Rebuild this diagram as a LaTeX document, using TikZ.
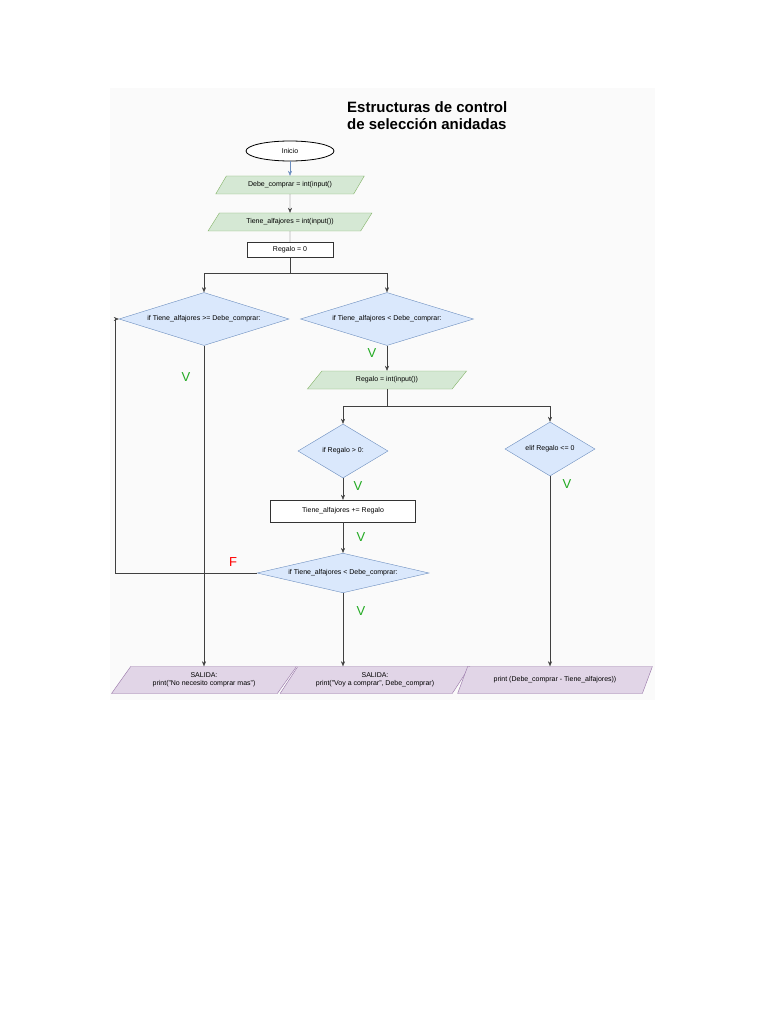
\documentclass[tikz,border=0pt]{standalone}
\usepackage{fontspec}
\setmainfont{Liberation Sans}
\usetikzlibrary{shapes.geometric,arrows.meta}
\definecolor{gf}{HTML}{D5E8D4}\definecolor{gd}{HTML}{82B366}
\definecolor{bf}{HTML}{DAE8FC}\definecolor{bd}{HTML}{6C8EBF}
\definecolor{pf}{HTML}{E1D5E7}\definecolor{pd}{HTML}{9673A6}
\definecolor{vg}{HTML}{22AA22}
\begin{document}
\begin{tikzpicture}[x=1pt,y=-1pt,
  every node/.style={font=\fontsize{7}{8}\selectfont,inner sep=1pt,align=center},
  para/.style={trapezium,trapezium left angle=50,trapezium right angle=130,trapezium stretches=true,draw},
  inp/.style={para,fill=gf,draw=gd},
  outp/.style={para,fill=pf,draw=pd},
  dec/.style={diamond,aspect=3.3,fill=bf,draw=bd,inner sep=0pt},
  proc/.style={draw=black!80,fill=white,rectangle},
  ar/.style={draw=black!75,-{Stealth[length=5pt,width=4pt]}},
  ln/.style={draw=black!75},
  vlab/.style={text=vg,font=\fontsize{13}{13}\selectfont},
]
\useasboundingbox (0,0) rectangle (768,1024);
\fill[black!2] (110,88) rectangle (655,700);
\node[anchor=west,font=\bfseries\fontsize{15}{17}\selectfont,align=left] (title) at (346,116) {Estructuras de control\\de selección anidadas};
\node[ellipse,draw,thick,fill=white,minimum width=88,minimum height=20] (ini) at (290,151) {Inicio};
\node[inp,minimum width=150,minimum height=18] (debe) at (290,185) {Debe\_comprar = int(input()};
\node[inp,minimum width=164,minimum height=18] (tiene) at (290,222) {Tiene\_alfajores = int(input())};
\node[proc,minimum width=86,minimum height=15] (reg0) at (290,250) {Regalo = 0};
\node[dec,minimum width=170,minimum height=53] (d1) at (204,319) {if Tiene\_alfajores >= Debe\_comprar:};
\node[dec,minimum width=173,minimum height=53] (d2) at (387,319) {if Tiene\_alfajores < Debe\_comprar:};
\node[inp,minimum width=160,minimum height=18] (regin) at (387,380) {Regalo = int(input())};
\node[dec,minimum width=90,minimum height=54] (d3) at (343,451) {if Regalo > 0:};
\node[dec,minimum width=90,minimum height=54] (d4) at (550,449) {elif Regalo <= 0};
\node[proc,minimum width=145,minimum height=22] (sum) at (343,511) {Tiene\_alfajores += Regalo};
\node[dec,minimum width=172,minimum height=38] (d5) at (343,573) {if Tiene\_alfajores < Debe\_comprar:};
\node[outp,minimum width=185,minimum height=27] (o1) at (204,680) {SALIDA:\\print("No necesito comprar mas")};
\node[outp,minimum width=190,minimum height=27] (o2) at (375,680) {SALIDA:\\print("Voy a comprar", Debe\_comprar)};
\node[outp,minimum width=195,minimum height=27] (o3) at (555,680) {print (Debe\_comprar - Tiene\_alfajores))};
\coordinate (s1) at (290,273);
\coordinate (s2) at (387,406);
\coordinate (lp) at (115,573);
\draw[ar,draw=bd] (ini) -- (debe);
\draw[ar] (debe) -- (tiene);
\draw[ln] (tiene) -- (reg0);
\draw[ln] (reg0) -- (s1);
\draw[ar] (s1) -| (d1.north);
\draw[ar] (s1) -| (d2.north);
\draw[ar] (d2) -- (regin);
\draw[ln] (regin) -- (s2);
\draw[ar] (s2) -| (d3.north);
\draw[ar] (s2) -| (d4.north);
\draw[ar] (d3) -- (sum);
\draw[ar] (sum) -- (d5);
\draw[ln] (d5.west) -- (lp);
\draw[ar] (lp) |- (d1.west);
\draw[ar] (d1.south) -- (d1.south |- o1.north);
\draw[ar] (d5.south) -- (d5.south |- o2.north);
\draw[ar] (d4.south) -- (d4.south |- o3.north);
\node[vlab] (v1) at (186,377) {V};
\node[vlab] (v2) at (372,353) {V};
\node[vlab] (v3) at (358,486) {V};
\node[vlab] (v4) at (567,484) {V};
\node[vlab] (v5) at (361,537) {V};
\node[vlab] (v6) at (361,611) {V};
\node[text=red,font=\fontsize{13}{13}\selectfont] (f) at (233,562) {F};
\end{tikzpicture}
\end{document}
